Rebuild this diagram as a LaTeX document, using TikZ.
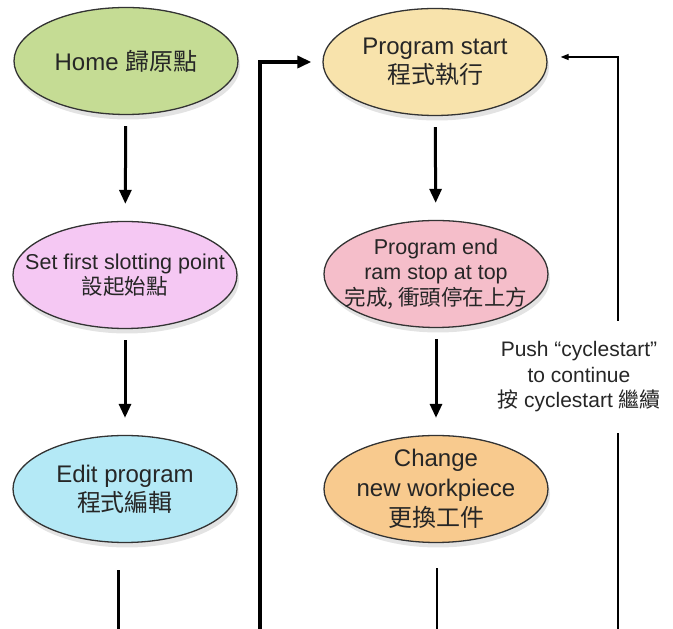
\documentclass[tikz,border=0pt]{standalone}
\usepackage{fontspec}
\setmainfont{Liberation Sans}
\newfontfamily\cjk{Noto Sans CJK TC}
\usetikzlibrary{shapes.geometric,shadows,arrows.meta}
\definecolor{cHome}{RGB}{197,220,148}
\definecolor{cSet}{RGB}{245,200,243}
\definecolor{cEdit}{RGB}{180,233,246}
\definecolor{cStart}{RGB}{248,227,172}
\definecolor{cEnd}{RGB}{245,190,202}
\definecolor{cChange}{RGB}{248,202,142}
\begin{document}
\begin{tikzpicture}[x=1pt,y=1pt,
  proc/.style={ellipse, draw=black!80, line width=1.3pt, minimum width=224pt,
    minimum height=107pt, inner sep=0pt,
    drop shadow={shadow xshift=2pt,shadow yshift=-5pt,opacity=0.22}},
  lbl/.style={inner sep=0pt, align=center, text=black!85},
  big/.style={font=\fontsize{24}{29}\selectfont},
  small/.style={font=\fontsize{21.5}{25.5}\selectfont},
  flow/.style={line width=3pt, -{Triangle[length=14pt,width=12pt]},
    shorten <=11pt, shorten >=17pt},
  trunk/.style={line width=3.4pt},
  thinline/.style={line width=1.3pt}]
\useasboundingbox (0,0) rectangle (673,629);

% left column
\node[proc, fill=cHome] (home) at (126,568) {};
\node[lbl, big] (homeT) at (home) {Home {\cjk 歸原點}};
\node[proc, fill=cSet] (set) at (125,354) {};
\node[lbl, small] (setT) at (set) {Set first slotting point\\{\cjk 設起始點}};
\node[proc, fill=cEdit] (edit) at (125,140) {};
\node[lbl, big] (editT) at (edit) {Edit program\\{\cjk 程式編輯}};

% right column
\node[proc, fill=cStart] (ps) at (435,567) {};
\node[lbl, big] (psT) at (ps) {Program start\\{\cjk 程式執行}};
\node[proc, fill=cEnd] (pe) at (436,355) {};
\node[lbl, small] (peT) at (pe) {Program end\\ram stop at top\\{\cjk 完成, 衝頭停在上方}};
\node[proc, fill=cChange] (chg) at (436,140) {};
\node[lbl, font=\fontsize{24}{30}\selectfont] (chgT) at (chg) {Change\\new workpiece\\{\cjk 更換工件}};

% side label
\node[font=\fontsize{21}{25.5}\selectfont, text=black!85, align=center,
  minimum height=112pt, inner sep=0pt] (push) at (579,252)
  {Push “cyclestart”\\to continue\\{\cjk 按} cyclestart {\cjk 繼續}};

% free ends at the bottom edge
\coordinate (eb) at (118,0);
\coordinate (lb) at (260,0);
\coordinate (cb) at (437,0);
\coordinate (rb) at (618,0);

% main flow arrows
\draw[flow] (home) -- (set);
\draw[flow] (set) -- (edit);
\draw[flow] (ps) -- (pe);
\draw[flow] (pe) -- (chg);

% lines running off the bottom
\path ([yshift=-27pt]edit.south) coordinate (e1);
\draw[line width=3pt] (e1 -| eb) -- (eb);
\path ([yshift=-25pt]chg.south) coordinate (c1);
\draw[line width=1.5pt] (c1 -| cb) -- (cb);

% left trunk into Program start
\draw[trunk, -{Triangle[length=14pt,width=12pt]}] (lb) |- ([xshift=-11pt]ps.west);

% right return into Program start
\draw[thinline] (rb) -- (push.south -| rb);
\draw[thinline, -{Triangle[length=8pt,width=6pt]}] (push.north -| rb) |- ([shift={(13pt,5pt)}]ps.east);
\end{tikzpicture}
\end{document}
